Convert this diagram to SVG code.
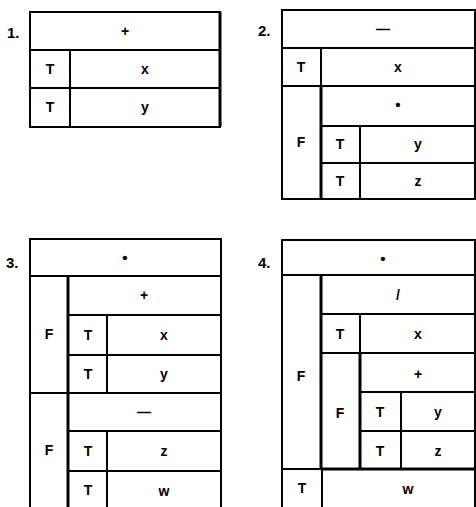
<svg xmlns="http://www.w3.org/2000/svg" width="476" height="507" viewBox="0 0 476 507">
<style>
rect{fill:#fff;stroke:#000;stroke-width:2}
.thick{stroke:#000;stroke-width:3;fill:none}
text{font-family:"Liberation Sans",Arial,sans-serif;font-weight:bold;font-size:14px;text-anchor:middle;dominant-baseline:central;fill:#000}
.lbl{font-size:15px;text-anchor:start}
.dot{font-size:15px}
</style>
<rect x="0" y="0" width="476" height="507" style="stroke:none"/>
<g id="panel1">
  <text class="lbl" x="7" y="32">1.</text>
  <g id="p1-plus"><rect x="30" y="12" width="190" height="38"/><text x="125" y="31">+</text></g>
  <g id="p1-T1"><rect x="30" y="50" width="40" height="38"/><text x="50" y="69">T</text></g>
  <g id="p1-x"><rect x="70" y="50" width="150" height="38"/><text x="145" y="69">x</text></g>
  <g id="p1-T2"><rect x="30" y="88" width="40" height="39"/><text x="50" y="107">T</text></g>
  <g id="p1-y"><rect x="70" y="88" width="150" height="39"/><text x="145" y="107">y</text></g>
  <line class="thick" x1="220" y1="12" x2="220" y2="127"/>
</g>
<g id="panel2">
  <text class="lbl" x="258" y="30">2.</text>
  <g id="p2-minus"><rect x="282" y="10" width="193" height="38"/><text x="383" y="29">—</text></g>
  <g id="p2-T1"><rect x="282" y="48" width="39" height="38"/><text x="301" y="67">T</text></g>
  <g id="p2-x"><rect x="321" y="48" width="154" height="38"/><text x="398" y="67">x</text></g>
  <g id="p2-F"><rect x="282" y="86" width="39" height="113"/><text x="301" y="142">F</text></g>
  <g id="p2-times"><rect x="321" y="86" width="154" height="40"/><text class="dot" x="398" y="104">•</text></g>
  <g id="p2-T2"><rect x="321" y="126" width="39" height="37"/><text x="340" y="144">T</text></g>
  <g id="p2-y"><rect x="360" y="126" width="115" height="37"/><text x="418" y="144">y</text></g>
  <g id="p2-T3"><rect x="321" y="163" width="39" height="36"/><text x="340" y="181">T</text></g>
  <g id="p2-z"><rect x="360" y="163" width="115" height="36"/><text x="418" y="181">z</text></g>
  <line class="thick" x1="321" y1="86" x2="321" y2="199"/>
</g>
<g id="panel3">
  <text class="lbl" x="6" y="262">3.</text>
  <g id="p3-times"><rect x="30" y="239" width="191" height="37"/><text class="dot" x="125" y="257">•</text></g>
  <g id="p3-F1"><rect x="30" y="276" width="38" height="117"/><text x="49" y="334">F</text></g>
  <g id="p3-plus"><rect x="68" y="276" width="153" height="39"/><text x="144" y="295">+</text></g>
  <g id="p3-T1"><rect x="68" y="315" width="39" height="40"/><text x="88" y="335">T</text></g>
  <g id="p3-x"><rect x="107" y="315" width="114" height="40"/><text x="164" y="335">x</text></g>
  <g id="p3-T2"><rect x="68" y="355" width="39" height="38"/><text x="88" y="374">T</text></g>
  <g id="p3-y"><rect x="107" y="355" width="114" height="38"/><text x="164" y="374">y</text></g>
  <g id="p3-F2"><rect x="30" y="393" width="38" height="130"/><text x="49" y="450">F</text></g>
  <g id="p3-minus"><rect x="68" y="393" width="153" height="38"/><text x="144" y="412">—</text></g>
  <g id="p3-T3"><rect x="68" y="431" width="39" height="40"/><text x="88" y="451">T</text></g>
  <g id="p3-z"><rect x="107" y="431" width="114" height="40"/><text x="164" y="451">z</text></g>
  <g id="p3-T4"><rect x="68" y="471" width="39" height="52"/><text x="88" y="490">T</text></g>
  <g id="p3-w"><rect x="107" y="471" width="114" height="52"/><text x="164" y="491">w</text></g>
  <line class="thick" x1="68" y1="276" x2="68" y2="507"/>
</g>
<g id="panel4">
  <text class="lbl" x="258" y="262">4.</text>
  <g id="p4-times"><rect x="282" y="240" width="193" height="35"/><text class="dot" x="383" y="258">•</text></g>
  <g id="p4-F1"><rect x="282" y="275" width="39" height="194"/><text x="301" y="376">F</text></g>
  <g id="p4-div"><rect x="321" y="275" width="154" height="39"/><text x="398" y="295">/</text></g>
  <g id="p4-T1"><rect x="321" y="314" width="39" height="39"/><text x="340" y="334">T</text></g>
  <g id="p4-x"><rect x="360" y="314" width="115" height="39"/><text x="418" y="334">x</text></g>
  <g id="p4-F2"><rect x="321" y="353" width="39" height="116"/><text x="340" y="413">F</text></g>
  <g id="p4-plus"><rect x="360" y="353" width="115" height="39"/><text x="418" y="374">+</text></g>
  <g id="p4-T2"><rect x="360" y="392" width="41" height="39"/><text x="380" y="412">T</text></g>
  <g id="p4-y"><rect x="401" y="392" width="74" height="39"/><text x="438" y="412">y</text></g>
  <g id="p4-T3"><rect x="360" y="431" width="41" height="38"/><text x="380" y="451">T</text></g>
  <g id="p4-z"><rect x="401" y="431" width="74" height="38"/><text x="438" y="451">z</text></g>
  <g id="p4-T4"><rect x="282" y="469" width="40" height="54"/><text x="302" y="488">T</text></g>
  <g id="p4-w"><rect x="322" y="469" width="153" height="54"/><text x="408" y="489">w</text></g>
  <line class="thick" x1="321" y1="275" x2="321" y2="469"/>
  <line class="thick" x1="360" y1="353" x2="360" y2="469"/>
  <line class="thick" x1="321" y1="469" x2="475" y2="469"/>
</g>
<g id="connectors"/>
</svg>
